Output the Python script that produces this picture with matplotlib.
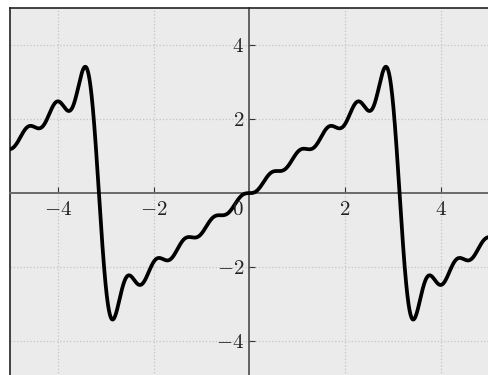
import numpy as np
import matplotlib
matplotlib.use("Agg")
import matplotlib.pyplot as plt

plt.rcParams['font.family'] = 'serif'
plt.rcParams['font.serif'] = ['cmr10']
plt.rcParams['mathtext.fontset'] = 'cm'
plt.rcParams['axes.formatter.use_mathtext'] = True

# sawtooth harmonics b_k for sin(k x), k = 1..10
coeffs = [2.0, -1.0, 0.6667, -0.5, 0.4, -0.3333, 0.2857, -0.25, 0.2222, -0.2]
x_range = (-5, 5)
ticks = [-4, -2, 2, 4]

x = np.linspace(x_range[0], x_range[1], 2000)
y = np.zeros_like(x)
for k, b in enumerate(coeffs, start=1):
    y += b * np.sin(k * x)

fig = plt.figure(figsize=(4.88, 3.75), dpi=100)
ax = fig.add_axes([10 / 488, -3.3 / 375, 1 - 10 / 488 + 0.001, 1 - 8 / 375 + 3.3 / 375])
ax.set_facecolor('#ebebeb')

ax.plot(x, y, color='black', lw=2.7, zorder=3)

ax.set_xlim(-5, 5)
ax.set_ylim(-5, 5)
ax.set_xticks(ticks)
ax.set_yticks(ticks)
ax.grid(True, color='#c4c4c4', linestyle=':', linewidth=0.9)

# axes through the origin
ax.spines['left'].set_position(('data', 0))
ax.spines['left'].set_color('#4a4a4a')
ax.spines['left'].set_linewidth(1.2)
ax.spines['bottom'].set_position(('data', 0))
ax.spines['bottom'].set_color('#6a6a6a')
ax.spines['bottom'].set_linewidth(1.4)
ax.spines['top'].set_color('#222222')
ax.spines['top'].set_linewidth(1.2)
ax.spines['right'].set_position(('axes', 0))
ax.spines['right'].set_color('#222222')
ax.spines['right'].set_linewidth(1.2)
ax.xaxis.set_ticks_position('bottom')
ax.yaxis.set_ticks_position('left')
ax.tick_params(direction='in', length=4.5, width=0.8, color='#333333',
               labelsize=15, labelcolor='#222222')
ax.tick_params(axis='x', pad=6)
ax.annotate('$0$', xy=(0, 0), xytext=(-4, -6), textcoords='offset points',
            ha='right', va='top', fontsize=15, color='#222222')

fig.savefig('out.png', dpi=100)
